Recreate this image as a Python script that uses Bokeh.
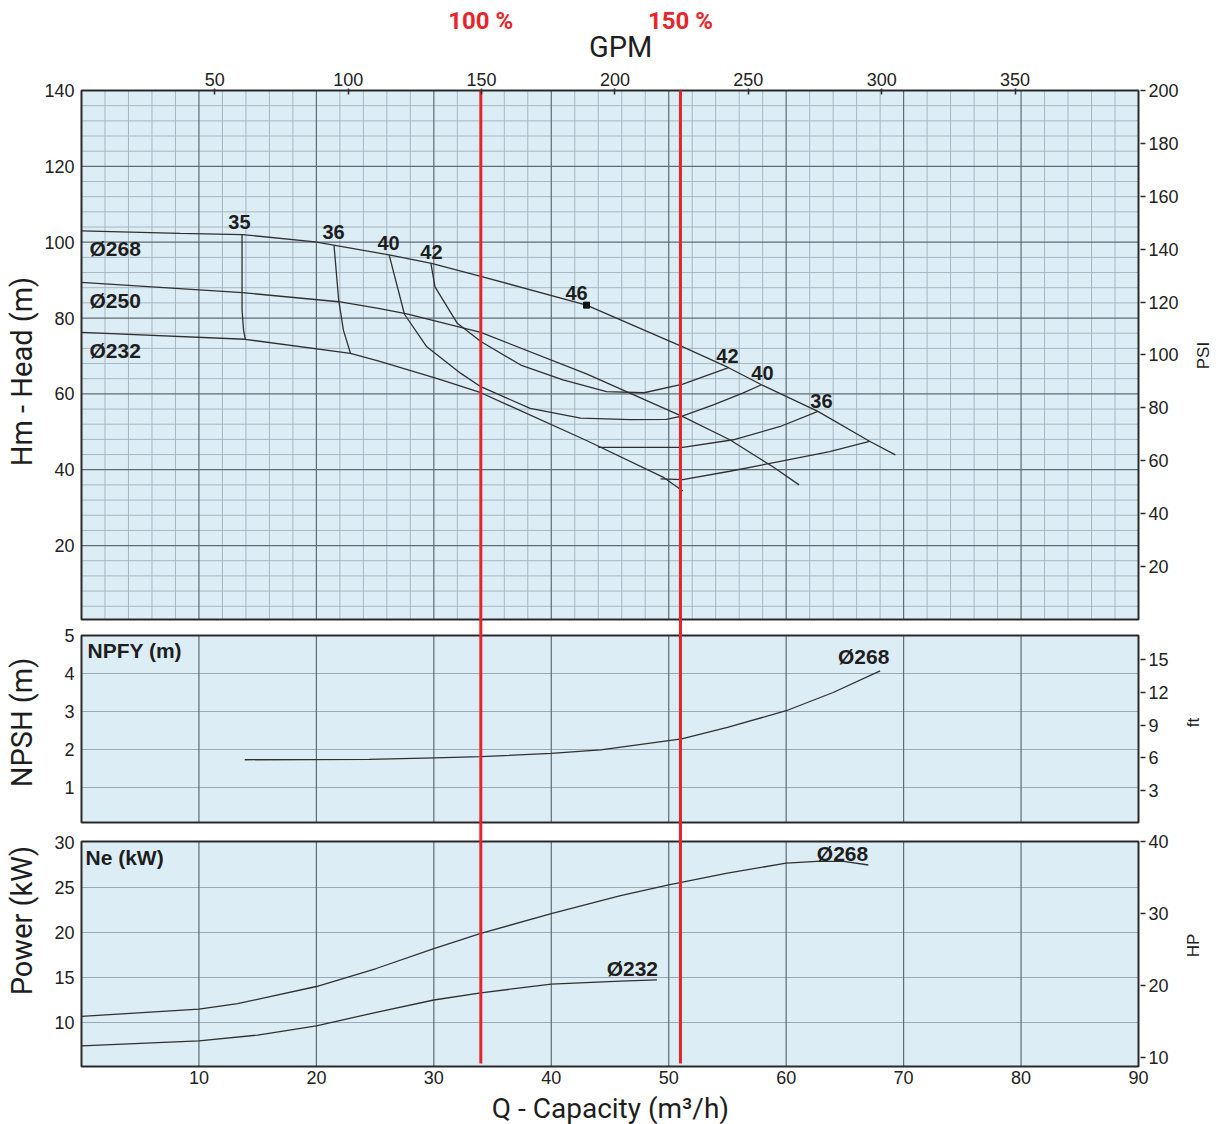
from bokeh.plotting import figure
from bokeh.layouts import column, row
from bokeh.models import Range1d, LinearAxis, FixedTicker
from bokeh.core.properties import value
from bokeh.embed import file_html
from bokeh.resources import INLINE

# ---------------- data ----------------
# Head curves, flow Q (m3/h) vs head H (m), per impeller diameter
q_268 = [0, 8.4, 13.7, 19.9, 26.3, 29.8, 34.0, 43.0, 51.2, 55.1, 57.9, 62.7, 67.1, 69.3]
h_268 = [103.0, 102.3, 102.0, 100.1, 96.6, 94.4, 91.0, 83.4, 72.4, 66.9, 62.4, 55.4, 47.5, 43.9]
q_250 = [0, 13.7, 21.9, 25.4, 27.7, 34.0, 43.0, 51.2, 55.2, 58.9, 61.1]
h_250 = [89.4, 86.7, 84.3, 82.5, 81.1, 76.2, 65.3, 54.0, 47.9, 40.7, 36.0]
q_232 = [0, 13.9, 22.9, 25.4, 30.3, 34.0, 43.0, 49.6, 51.2]
h_232 = [76.2, 74.4, 70.7, 68.6, 64.0, 60.3, 47.7, 37.9, 34.4]

# Iso-efficiency lines (%)
eff_35a_q = [13.67, 13.67, 13.8, 13.95]
eff_35a_h = [102.0, 82.1, 76.8, 74.4]
eff_36a_q = [21.5, 21.9, 22.3, 22.9]
eff_36a_h = [99.2, 84.7, 76.8, 70.7]
eff_40_q = [26.2, 26.6, 27.5, 29.4, 32.3, 34.0, 38.2, 42.5, 46.7, 49.8, 51.2, 53.8, 56.3, 57.9]
eff_40_h = [96.6, 91.8, 81.0, 72.4, 65.4, 61.9, 56.2, 53.6, 53.2, 53.3, 54.2, 57.1, 60.2, 62.4]
eff_42_q = [29.75, 30.1, 32.0, 34.0, 37.4, 41.0, 44.7, 47.9, 51.2, 55.1]
eff_42_h = [94.4, 88.2, 78.6, 73.8, 67.6, 63.7, 60.6, 60.3, 62.55, 66.9]
eff_36b_q = [44.0, 51.2, 55.5, 59.5, 62.7]
eff_36b_h = [45.9, 45.9, 47.9, 51.4, 55.4]
eff_35b_q = [49.3, 51.2, 55.2, 59.5, 63.7, 67.1]
eff_35b_h = [37.6, 37.4, 39.6, 42.2, 44.8, 47.5]

# Best efficiency point (46 %) on the 268 mm curve
bep_q = [43.0]
bep_h = [83.4]

# Required NPSH (m), 268 mm impeller
npsh_q = [13.9, 24.5, 30.1, 34.0, 40.0, 44.2, 51.1, 55.0, 60.0, 64.0, 68.0]
npsh_m = [1.73, 1.74, 1.78, 1.81, 1.90, 1.99, 2.28, 2.58, 3.02, 3.50, 4.07]

# Shaft power (kW)
pw_268_q = [0, 10, 13.3, 20, 25.1, 30, 34, 40, 45.9, 50, 55, 60, 62.6, 64.9, 67]
pw_268_kw = [10.67, 11.48, 12.1, 14.0, 16.0, 18.2, 19.9, 22.1, 24.1, 25.3, 26.6, 27.7, 27.9, 27.9, 27.5]
pw_232_q = [0, 10, 15, 20, 25, 30, 34, 40, 45.9, 49.0]
pw_232_kw = [7.4, 7.96, 8.6, 9.63, 11.1, 12.5, 13.3, 14.26, 14.6, 14.73]

# Rated flow and the duty marks drawn at 100 % and 150 % of it
rated_q = 34.0
duty_factors = [1.0, 1.5]
duty_labels = ["100 %", "150 %"]

# Tick values
q_ticks = [10, 20, 30, 40, 50, 60, 70, 80, 90]
gpm_ticks = [50, 100, 150, 200, 250, 300, 350]
head_ticks = [20, 40, 60, 80, 100, 120, 140]
psi_ticks = [20, 40, 60, 80, 100, 120, 140, 160, 180, 200]
npsh_ticks = [1, 2, 3, 4, 5]
ft_ticks = [3, 6, 9, 12, 15]
power_ticks = [10, 15, 20, 25, 30]
hp_ticks = [10, 20, 30, 40]

# ---------------- scales ----------------
GPM_PER_M3H = 4.4029
Q_RANGE = (-0.17, 90.17)
HEAD_RANGE = (-117.9, 140.53)     # head panel sits at the top of the shared frame
NPSH_RANGE = (-6.395, 19.395)
POWER_RANGE = (4.889, 113.78)
PSI_RANGE = (-169.9, 200.76)
FT_RANGE = (-22.46, 67.30)
HP_RANGE = (8.43, 144.73)

HEAD_PANEL = (0.5, 140.0)
NPSH_PANEL = (0.08, 5.0)
POWER_PANEL = (5.11, 30.1)

BG = "#ddedf6"
INK = "#2a2a2a"
MAJOR = "#5f6b74"
MINOR = "#a6b7c2"
RED = "#e8242b"
TICK_FONT = "Liberation Sans"
TITLE_FONT = "Roboto"

# page layout (px)
PAGE_W = 1220
TOP_H, BOTTOM_H = 64, 33
MID_H = 1124 - TOP_H - BOTTOM_H
LEFT_W, RIGHT_W = 39, 38
FRAME_L, FRAME_R = 79, 1140          # frame edges on the page
MID_TOP, MID_BOTTOM = 24, 23         # borders of the chart inside the middle row

x_range = Range1d(*Q_RANGE)
y_range = Range1d(*HEAD_RANGE)
y_extra = {"npsh": Range1d(*NPSH_RANGE), "power": Range1d(*POWER_RANGE)}


def blank(fig):
    fig.outline_line_color = None
    fig.background_fill_color = "white"
    fig.border_fill_color = "white"
    fig.xgrid.visible = False
    fig.ygrid.visible = False
    return fig


p = blank(figure(width=PAGE_W - LEFT_W - RIGHT_W, height=MID_H,
                 x_range=x_range, y_range=y_range,
                 min_border_left=FRAME_L - LEFT_W,
                 min_border_right=PAGE_W - RIGHT_W - FRAME_R,
                 min_border_top=MID_TOP, min_border_bottom=MID_BOTTOM,
                 output_backend="svg", toolbar_location=None))
p.extra_x_ranges = {"gpm": Range1d(Q_RANGE[0] * GPM_PER_M3H, Q_RANGE[1] * GPM_PER_M3H)}
p.extra_y_ranges = y_extra

unit_ranges = {"head": HEAD_RANGE, "npsh": NPSH_RANGE, "power": POWER_RANGE,
               "psi": PSI_RANGE, "ft": FT_RANGE, "hp": HP_RANGE}


def to_head(v, unit):
    lo, hi = unit_ranges[unit]
    return round(HEAD_RANGE[0] + (v - lo) / (hi - lo) * (HEAD_RANGE[1] - HEAD_RANGE[0]), 6)


def rng_kw(name):
    return {} if name == "head" else {"y_range_name": name}


# ---------------- panels ----------------
panels = [("head", HEAD_PANEL), ("npsh", NPSH_PANEL), ("power", POWER_PANEL)]
for name, (lo, hi) in panels:
    p.quad(left=[0], right=[90], bottom=[lo], top=[hi], fill_color=BG,
           line_color=None, **rng_kw(name))

# head panel grid: minor every 2 m3/h and 4 m, major every 10 m3/h and 20 m
minor_q = [q for q in range(2, 90, 2) if q % 10]
major_q = [q for q in range(10, 90, 10)]
minor_h = [h for h in range(4, 140, 4) if h % 20]
major_h = [h for h in range(20, 140, 20)]
lo, hi = HEAD_PANEL
p.segment(x0=minor_q, x1=minor_q, y0=[lo] * len(minor_q), y1=[hi] * len(minor_q),
          line_color=MINOR, line_width=1)
p.segment(x0=[0] * len(minor_h), x1=[90] * len(minor_h), y0=minor_h, y1=minor_h,
          line_color=MINOR, line_width=1)
p.segment(x0=major_q, x1=major_q, y0=[lo] * len(major_q), y1=[hi] * len(major_q),
          line_color=MAJOR, line_width=1.2)
p.segment(x0=[0] * len(major_h), x1=[90] * len(major_h), y0=major_h, y1=major_h,
          line_color=MAJOR, line_width=1.2)

# lower panels: verticals every 10 m3/h, horizontals at each tick
for name, (lo, hi), hlines in [("npsh", NPSH_PANEL, [1, 2, 3, 4]),
                                ("power", POWER_PANEL, [10, 15, 20, 25])]:
    p.segment(x0=[0] * len(hlines), x1=[90] * len(hlines), y0=hlines, y1=hlines,
              line_color="#99aab5", line_width=1.1, y_range_name=name)
    p.segment(x0=major_q, x1=major_q, y0=[lo] * len(major_q), y1=[hi] * len(major_q),
              line_color=MAJOR, line_width=1.2, y_range_name=name)

# ---------------- curves ----------------
CURVE = dict(line_color="#303030", line_width=1.3)
for qs, hs in [(q_268, h_268), (q_250, h_250), (q_232, h_232),
               (eff_35a_q, eff_35a_h), (eff_36a_q, eff_36a_h), (eff_40_q, eff_40_h),
               (eff_42_q, eff_42_h), (eff_36b_q, eff_36b_h), (eff_35b_q, eff_35b_h)]:
    p.line(qs, hs, **CURVE)
p.scatter(bep_q, bep_h, marker="square", size=6, color="#111111")

p.line(npsh_q, npsh_m, y_range_name="npsh", **CURVE)
p.line(pw_268_q, pw_268_kw, y_range_name="power", **CURVE)
p.line(pw_232_q, pw_232_kw, y_range_name="power", **CURVE)

# panel borders
for name, (lo, hi) in panels:
    p.quad(left=[0], right=[90], bottom=[lo], top=[hi], fill_color=None,
           line_color=INK, line_width=2, **rng_kw(name))

# duty lines running through all three panels
duty_q = [rated_q * f for f in duty_factors]
red_bottom = to_head(5.45, "power")
p.segment(x0=duty_q, x1=duty_q, y0=[HEAD_PANEL[1]] * len(duty_q),
          y1=[red_bottom] * len(duty_q), line_color=RED, line_width=3)

# ---------------- axes ----------------
def style_axis(ax, size="18px"):
    ax.axis_line_color = None
    ax.major_label_text_font = TICK_FONT
    ax.major_label_text_font_size = size
    ax.major_label_text_color = "#222222"
    ax.minor_tick_line_color = None
    ax.major_tick_line_color = INK


xb = p.xaxis[0]
xb.ticker = FixedTicker(ticks=q_ticks)
style_axis(xb)
xb.major_tick_line_color = None
xb.major_tick_out = 0
xb.major_tick_in = 0
xb.major_label_standoff = 2

top = LinearAxis(x_range_name="gpm", ticker=FixedTicker(ticks=gpm_ticks))
style_axis(top)
top.major_tick_in = 6
top.major_tick_out = 0
top.major_tick_line_width = 1.5
top.major_label_standoff = 3
p.add_layout(top, "above")

left_ticks, left_labels = [], {}
for unit, ticks in [("head", head_ticks), ("npsh", npsh_ticks), ("power", power_ticks)]:
    for t in ticks:
        pos = to_head(t, unit)
        left_ticks.append(pos)
        left_labels[pos] = str(t)
yl = p.yaxis[0]
yl.ticker = FixedTicker(ticks=left_ticks)
yl.major_label_overrides = left_labels
style_axis(yl)
yl.major_tick_line_color = None
yl.major_tick_out = 0
yl.major_tick_in = 0
yl.major_label_standoff = 5

right_ticks, right_labels = [], {}
for unit, ticks in [("psi", psi_ticks), ("ft", ft_ticks), ("hp", hp_ticks)]:
    for t in ticks:
        pos = to_head(t, unit)
        right_ticks.append(pos)
        right_labels[pos] = str(t)
yr = LinearAxis(ticker=FixedTicker(ticks=right_ticks))
yr.major_label_overrides = right_labels
style_axis(yr)
yr.major_tick_out = 5
yr.major_tick_in = 0
yr.major_tick_line_width = 1.5
yr.major_label_standoff = 3
p.add_layout(yr, "right")


# ---------------- texts ----------------
def put(fig, x, y, text, unit="head", size="20px", font=TICK_FONT, style="bold",
        color="#1e1e1e", align="center", angle=0.0):
    kw = {} if unit in ("head", None) else {"y_range_name": unit}
    fig.text(x=[x], y=[y], text=[text], text_font=value(font), text_font_size=size,
             text_font_style=style, text_color=color, text_align=align,
             text_baseline="middle", angle=angle, **kw)


# diameter and efficiency captions inside the panels
for y, txt in [(98.33, "Ø268"), (84.6, "Ø250"), (71.4, "Ø232")]:
    put(p, 0.68, y, txt, size="21px", align="left")
for x, y, txt in [(13.45, 105.2, "35"), (21.46, 102.8, "36"), (26.14, 99.9, "40"),
                  (29.8, 97.5, "42"), (42.15, 86.7, "46"), (55.0, 70.1, "42"),
                  (57.98, 65.4, "40"), (63.0, 58.25, "36")]:
    put(p, x, y, txt)

put(p, 0.51, 4.6, "NPFY (m)", unit="npsh", size="21px", align="left")
put(p, 66.6, 4.45, "Ø268", unit="npsh", size="21px")
put(p, 0.34, 28.33, "Ne (kW)", unit="power", size="21px", align="left")
put(p, 64.8, 28.78, "Ø268", unit="power", size="21px")
put(p, 46.9, 16.0, "Ø232", unit="power", size="21px")

# strip above: duty captions and GPM title (y measured down from the strip top)
top_strip = blank(figure(width=PAGE_W, height=TOP_H, x_range=x_range,
                         y_range=Range1d(TOP_H, 0),
                         min_border_left=FRAME_L, min_border_right=PAGE_W - FRAME_R,
                         min_border_top=0, min_border_bottom=0,
                         x_axis_location=None, y_axis_location=None,
                         output_backend="svg", toolbar_location=None))
for q, txt in zip(duty_q, duty_labels):
    put(top_strip, q, 20, txt, unit=None, size="24px", font=TITLE_FONT, color=RED)
put(top_strip, 45.9, 46.5, "GPM", unit=None, size="29px", font=TITLE_FONT, style="normal")

# strip below: capacity title
bottom_strip = blank(figure(width=PAGE_W, height=BOTTOM_H, x_range=x_range,
                            y_range=Range1d(BOTTOM_H, 0),
                            min_border_left=FRAME_L, min_border_right=PAGE_W - FRAME_R,
                            min_border_top=0, min_border_bottom=0,
                            x_axis_location=None, y_axis_location=None,
                            output_backend="svg", toolbar_location=None))
put(bottom_strip, 45.04, 16.5, "Q - Capacity (m³/h)", unit=None, size="28px",
    font=TITLE_FONT, style="normal")


def side_strip(width):
    fig = blank(figure(width=width, height=MID_H, x_range=Range1d(0, width),
                       y_range=y_range, min_border_left=0, min_border_right=0,
                       min_border_top=MID_TOP, min_border_bottom=MID_BOTTOM,
                       x_axis_location=None, y_axis_location=None,
                       output_backend="svg", toolbar_location=None))
    fig.extra_y_ranges = y_extra
    return fig


left_strip = side_strip(LEFT_W)
TITLE = dict(size="29px", font=TITLE_FONT, style="normal", angle=1.5708)
put(left_strip, 21.5, 65.9, "Hm - Head (m)", **TITLE)
put(left_strip, 21.5, 2.71, "NPSH (m)", unit="npsh", **TITLE)
put(left_strip, 21.5, 21.33, "Power (kW)", unit="power", **TITLE)

right_strip = side_strip(RIGHT_W)
UNIT = dict(size="17px", style="normal", angle=1.5708)
put(right_strip, 21, 70.1, "PSI", **UNIT)
put(right_strip, 10.5, 2.71, "ft", unit="npsh", **UNIT)
put(right_strip, 10.5, 18.56, "HP", unit="power", **UNIT)

page = column(top_strip, row(left_strip, p, right_strip), bottom_strip)

open("out.html", "w").write(file_html(page, INLINE))
